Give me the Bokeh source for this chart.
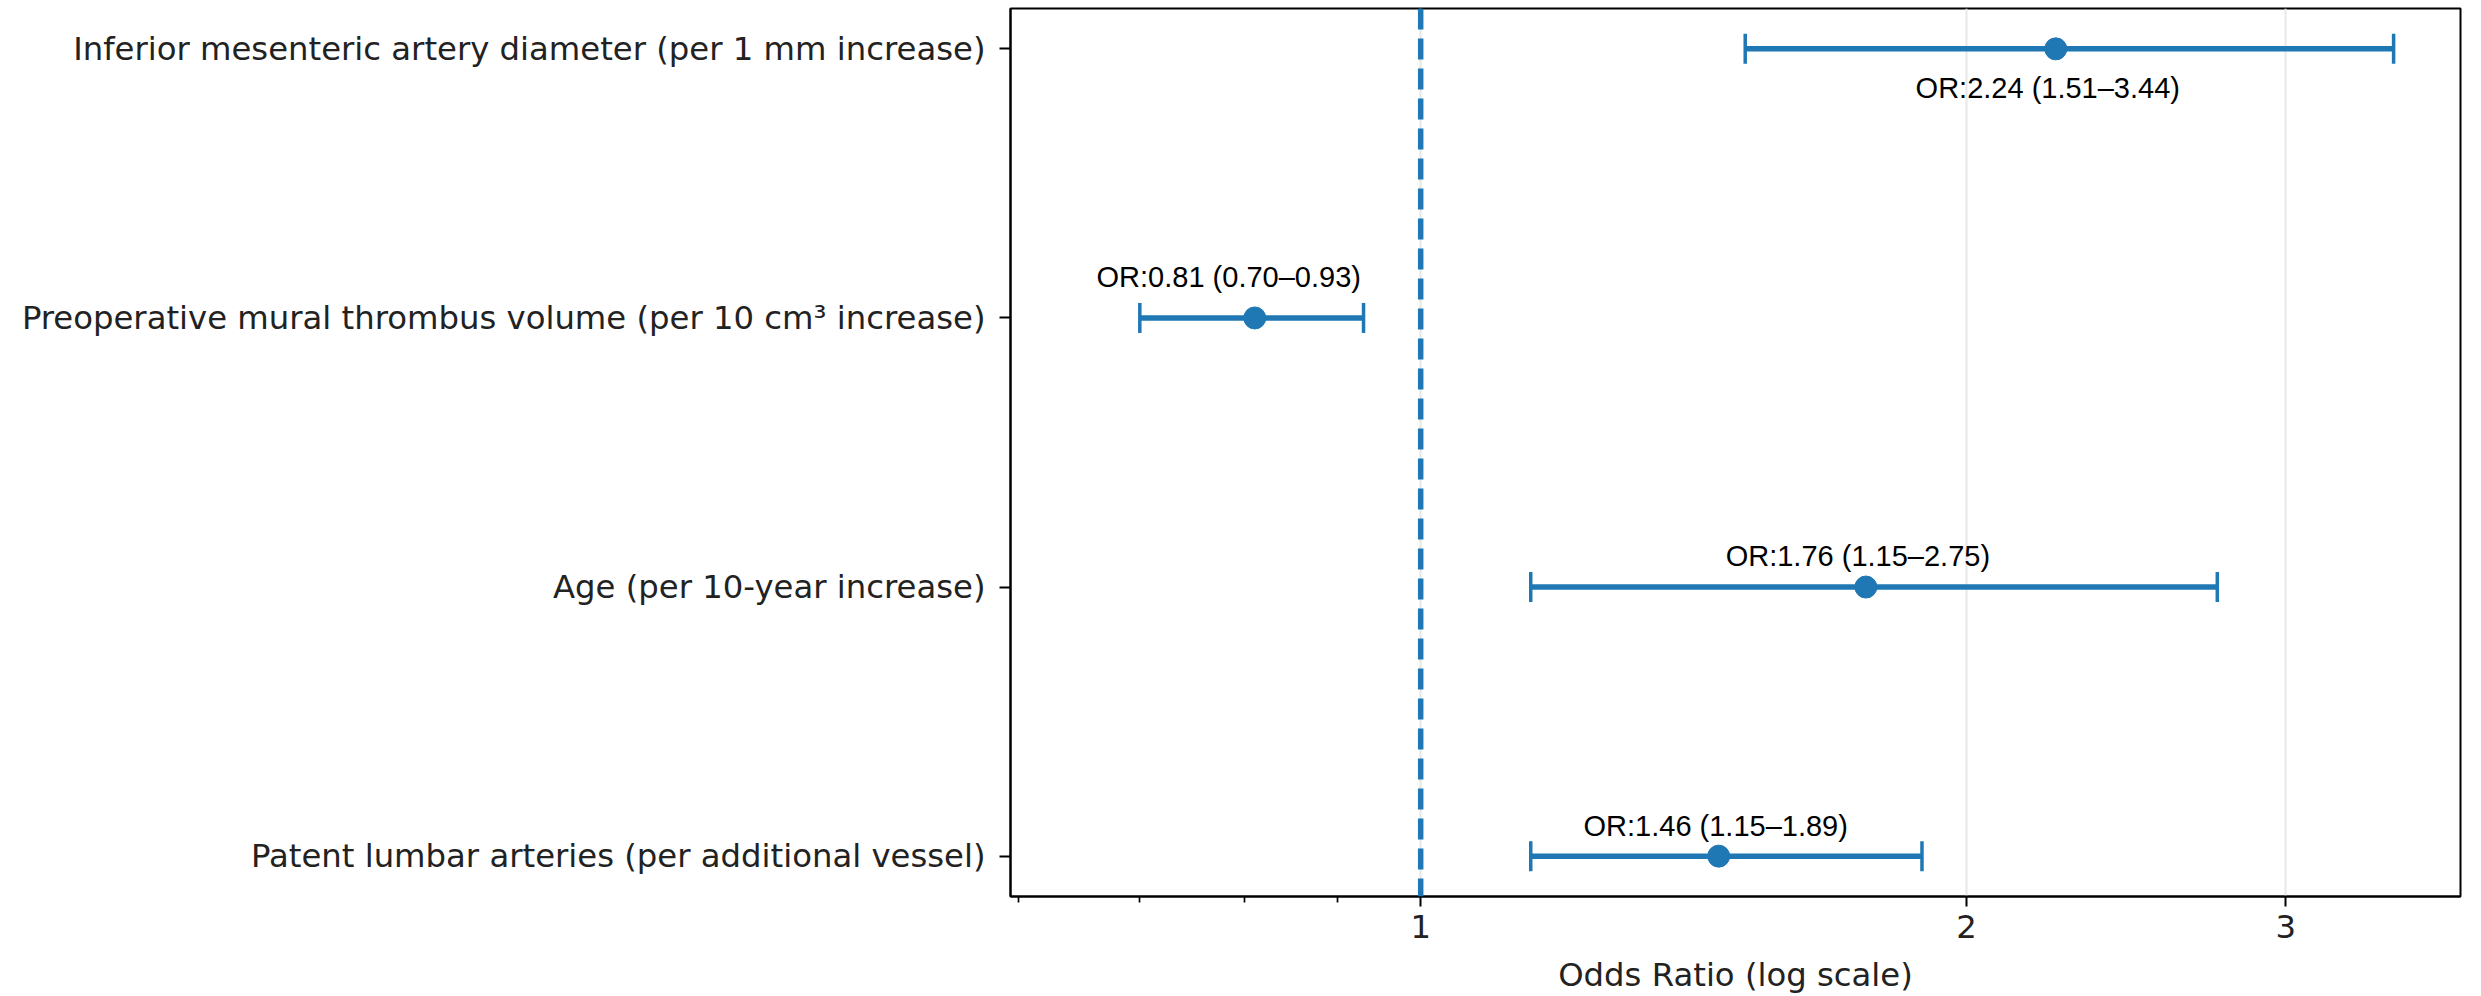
from bokeh.plotting import figure
from bokeh.models import Range1d, FixedTicker, Span, Whisker, TeeHead, ColumnDataSource, PrintfTickFormatter
from bokeh.core.properties import value
from bokeh.embed import file_html
from bokeh.resources import INLINE

# ---- data (top to bottom) ----
categories = [
    "Inferior mesenteric artery diameter (per 1 mm increase)",
    "Preoperative mural thrombus volume (per 10 cm\u00b3 increase)",
    "Age (per 10-year increase)",
    "Patent lumbar arteries (per additional vessel)",
]
odds_ratio = [2.24, 0.81, 1.76, 1.46]
ci_lower = [1.51, 0.70, 1.15, 1.15]
ci_upper = [3.44, 0.93, 2.75, 1.89]
x_major_ticks = [1, 2, 3]
x_minor_ticks = [0.6, 0.7, 0.8, 0.9]

# label placement (screen pixels)
label_dx = [-8, -26, -8, -3]
label_dy = [39, -41, -31, -30]

n = len(categories)
ypos = [n - 1 - i for i in range(n)]
labels = [f"OR:{o:.2f} ({l:.2f}\u2013{u:.2f})" for o, l, u in zip(odds_ratio, ci_lower, ci_upper)]

src = ColumnDataSource(dict(y=ypos, orr=odds_ratio, lo=ci_lower, hi=ci_upper,
                            label=labels, dx=label_dx, dy=label_dy))

BLUE = "#1f77b4"
TXT = "#222222"
FS = "32.3px"

p = figure(width=2481, height=996, x_axis_type="log",
           x_range=Range1d(0.594, 3.745), y_range=Range1d(-0.15, 3.15),
           output_backend="svg", toolbar_location=None,
           min_border_left=1010, min_border_right=21, min_border_top=8, min_border_bottom=97)

p.background_fill_color = "white"
p.outline_line_color = "black"
p.outline_line_width = 2

# grid
p.ygrid.visible = False
p.xgrid.ticker = FixedTicker(ticks=x_major_ticks)
p.xgrid.grid_line_color = "#e7e7e7"
p.xgrid.grid_line_width = 2

# x axis
xa = p.xaxis[0]
xa.ticker = FixedTicker(ticks=x_major_ticks, minor_ticks=x_minor_ticks)
xa.formatter = PrintfTickFormatter(format="%d")
xa.axis_label = "Odds Ratio (log scale)"
xa.axis_label_text_font = "DejaVu Sans"
xa.axis_label_text_font_size = FS
xa.axis_label_text_font_style = "normal"
xa.axis_label_text_color = TXT
xa.axis_label_text_line_height = 0.9
xa.axis_label_standoff = 15
xa.major_label_text_font = "DejaVu Sans"
xa.major_label_text_font_size = FS
xa.major_label_text_color = TXT
xa.major_label_text_line_height = 0.9
xa.major_label_standoff = 8
xa.major_tick_out = 10
xa.major_tick_in = 0
xa.minor_tick_out = 6
xa.minor_tick_in = 0
xa.major_tick_line_width = 2
xa.minor_tick_line_width = 1.7
xa.axis_line_width = 2
xa.axis_line_color = "black"

# y axis
ya = p.yaxis[0]
ya.ticker = FixedTicker(ticks=ypos, minor_ticks=[])
ya.major_label_overrides = {y: c for y, c in zip(ypos, categories)}
ya.major_label_text_font = "DejaVu Sans"
ya.major_label_text_font_size = FS
ya.major_label_text_color = TXT
ya.major_label_standoff = 14
ya.major_tick_out = 11
ya.major_tick_in = 0
ya.major_tick_line_width = 2
ya.axis_line_width = 2
ya.axis_line_color = "black"

# reference line at OR = 1
p.add_layout(Span(location=1, dimension="height", line_color=BLUE,
                  line_width=5.5, line_dash="21 9"))

# error bars
w = Whisker(source=src, base="y", lower="lo", upper="hi", dimension="width",
            line_color=BLUE, line_width=5.5, level="underlay",
            lower_head=TeeHead(size=30, line_color=BLUE, line_width=3.5),
            upper_head=TeeHead(size=30, line_color=BLUE, line_width=3.5))
p.add_layout(w)

# points
p.scatter(x="orr", y="y", source=src, size=22, color=BLUE)

# labels
p.text(x="orr", y="y", text="label", source=src, x_offset="dx", y_offset="dy",
       text_align="center", text_baseline="middle",
       text_font=value("Liberation Sans"), text_font_size="29px", text_color="black")

open("out.html", "w").write(file_html(p, INLINE))
